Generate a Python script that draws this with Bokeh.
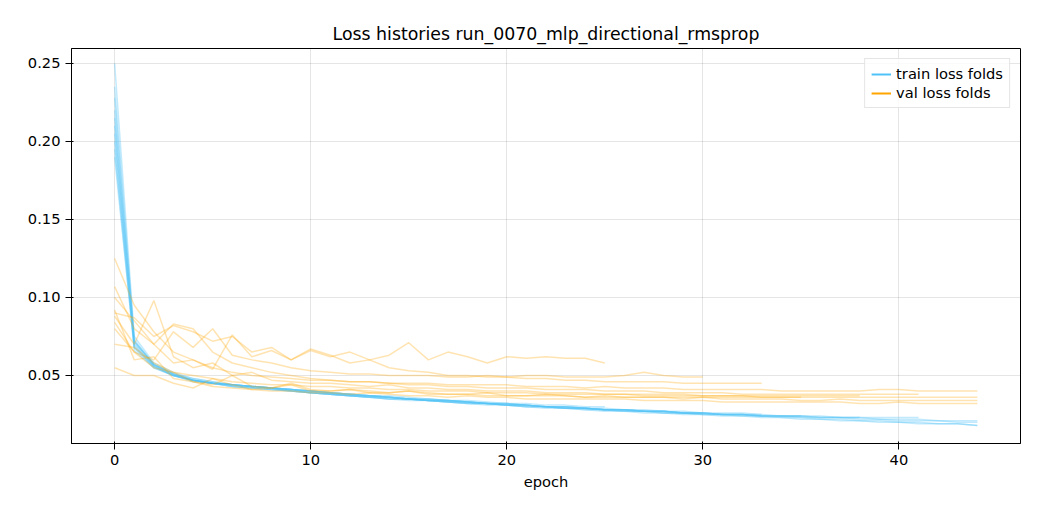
from bokeh.plotting import figure
from bokeh.models import Range1d, Legend, LegendItem, SingleIntervalTicker, NumeralTickFormatter
from bokeh.embed import file_html
from bokeh.resources import INLINE

train_folds = [
    [0.228,0.072,0.057,0.051,0.047,0.045,0.044,0.043,0.042,0.041,0.039,0.038,0.037,0.037,0.036,0.035,0.034,0.034,0.033,0.032,0.031,0.031,0.030,0.029,0.029,0.028,0.028,0.027,0.027,0.026,0.026,0.025,0.025,0.024,0.024,0.023,0.023,0.023,0.022,0.022,0.021,0.021,0.021,0.020,0.020],
    [0.205,0.068,0.055,0.050,0.047,0.045,0.044,0.043,0.042,0.040,0.039,0.038,0.037,0.036,0.035,0.035,0.034,0.033,0.032,0.032,0.031,0.030,0.030,0.029,0.028,0.028,0.027,0.027,0.026,0.026,0.025,0.025,0.024,0.024,0.023,0.023,0.022,0.022,0.021,0.021,0.020,0.020,0.019,0.019,0.018],
    [0.195,0.066,0.055,0.050,0.046,0.045,0.043,0.042,0.041,0.040,0.039,0.038,0.037,0.036,0.035,0.034,0.034,0.033,0.032,0.031,0.031,0.030,0.029,0.029,0.028,0.027,0.027,0.026,0.026,0.025,0.025,0.024,0.024,0.023,0.023,0.022,0.022,0.021,0.021,0.020,0.020,0.019,0.019,0.019,0.018],
    [0.250,0.075,0.058,0.052,0.048,0.046,0.044,0.043,0.042,0.041,0.040,0.039,0.038,0.037,0.036,0.035,0.035,0.034,0.033,0.032,0.032,0.031,0.030,0.030,0.029,0.028,0.028,0.027,0.027,0.026,0.026,0.025,0.025,0.024,0.024,0.024,0.023,0.023,0.023,0.022,0.022,0.022,0.021,0.021,0.021],
    [0.215,0.070,0.056,0.050,0.047,0.045,0.044,0.043,0.042,0.041,0.040,0.039,0.038,0.037,0.036,0.035,0.034,0.034,0.033,0.032,0.032,0.031,0.030,0.030,0.029,0.028,0.028,0.027,0.027,0.026,0.026,0.025,0.025,0.025,0.024,0.024,0.024,0.023,0.023,0.023,0.023,0.023],
    [0.190,0.068,0.056,0.050,0.047,0.045,0.043,0.042,0.041,0.040,0.039,0.038,0.037,0.036,0.035,0.035,0.034,0.033,0.032,0.032,0.031,0.030,0.030,0.029,0.029,0.028,0.027,0.027,0.026,0.026,0.025,0.025,0.025,0.024,0.024,0.024,0.023,0.023,0.023],
    [0.220,0.072,0.057,0.051,0.047,0.045,0.044,0.043,0.042,0.041,0.040,0.039,0.038,0.037,0.036,0.035,0.035,0.034,0.033,0.032,0.032,0.031,0.030,0.030,0.029,0.029,0.028,0.028,0.027,0.027,0.026,0.026,0.026,0.025],
    [0.200,0.069,0.056,0.050,0.047,0.045,0.043,0.042,0.041,0.040,0.039,0.038,0.037,0.036,0.036,0.035,0.034,0.033,0.033,0.032,0.031,0.031,0.030,0.030,0.029,0.028,0.028,0.027,0.027,0.026,0.026],
    [0.210,0.071,0.057,0.051,0.048,0.046,0.044,0.043,0.042,0.041,0.040,0.039,0.038,0.037,0.037,0.036,0.035,0.034,0.034,0.033,0.032,0.032,0.031,0.031,0.030,0.030],
    [0.235,0.073,0.057,0.051,0.047,0.045,0.044,0.043,0.042,0.041,0.040,0.039,0.038,0.037,0.036,0.035,0.034,0.034,0.033,0.032,0.031,0.031,0.030,0.029,0.029,0.028,0.028,0.027,0.027,0.026,0.026,0.025,0.025,0.024,0.024,0.024],
]

val_folds = [
    [0.125,0.095,0.078,0.065,0.060,0.055,0.052,0.050,0.049,0.048,0.047,0.047,0.046,0.046,0.045,0.045,0.045,0.044,0.044,0.044,0.044,0.043,0.043,0.043,0.042,0.043,0.042,0.042,0.042,0.041,0.041,0.041,0.041,0.041,0.040,0.040,0.040,0.040,0.040,0.041,0.041,0.040,0.040,0.040,0.040],
    [0.080,0.065,0.055,0.052,0.050,0.048,0.046,0.045,0.044,0.044,0.043,0.043,0.042,0.042,0.041,0.041,0.040,0.040,0.040,0.039,0.039,0.039,0.038,0.038,0.038,0.038,0.038,0.037,0.037,0.037,0.037,0.037,0.037,0.036,0.036,0.036,0.036,0.036,0.036,0.036,0.036,0.036,0.036,0.036,0.036],
    [0.092,0.060,0.062,0.048,0.046,0.044,0.050,0.043,0.042,0.045,0.041,0.040,0.041,0.040,0.039,0.040,0.039,0.038,0.038,0.039,0.037,0.037,0.038,0.037,0.036,0.037,0.036,0.036,0.036,0.035,0.036,0.035,0.035,0.035,0.035,0.034,0.034,0.035,0.034,0.034,0.034,0.034,0.034,0.034,0.034],
    [0.070,0.068,0.058,0.052,0.046,0.043,0.042,0.041,0.040,0.040,0.039,0.039,0.038,0.039,0.038,0.037,0.037,0.036,0.037,0.036,0.036,0.035,0.035,0.035,0.035,0.035,0.035,0.034,0.034,0.034,0.034,0.033,0.033,0.033,0.033,0.033,0.033,0.033,0.032,0.032,0.033,0.032,0.032,0.032,0.032],
    [0.100,0.085,0.070,0.083,0.080,0.065,0.058,0.055,0.052,0.050,0.048,0.047,0.046,0.046,0.045,0.044,0.044,0.043,0.043,0.042,0.042,0.042,0.041,0.041,0.041,0.040,0.040,0.040,0.039,0.039,0.039,0.039,0.038,0.038,0.038,0.038,0.038,0.038,0.038,0.038,0.038,0.038],
    [0.088,0.070,0.098,0.062,0.055,0.058,0.050,0.052,0.047,0.046,0.045,0.045,0.044,0.043,0.044,0.042,0.042,0.041,0.041,0.040,0.040,0.040,0.039,0.039,0.039,0.038,0.038,0.038,0.038,0.038,0.037,0.037,0.037,0.037,0.037,0.037,0.037,0.037,0.037],
    [0.107,0.080,0.070,0.058,0.060,0.054,0.076,0.062,0.066,0.060,0.067,0.063,0.058,0.060,0.055,0.053,0.052,0.050,0.050,0.049,0.049,0.048,0.048,0.047,0.047,0.046,0.046,0.046,0.046,0.045,0.045,0.045,0.045,0.045],
    [0.084,0.065,0.060,0.078,0.068,0.080,0.063,0.060,0.058,0.055,0.053,0.052,0.051,0.051,0.050,0.050,0.050,0.049,0.049,0.050,0.049,0.050,0.050,0.049,0.049,0.049,0.050,0.052,0.050,0.049,0.049],
    [0.090,0.087,0.075,0.082,0.078,0.072,0.075,0.065,0.068,0.060,0.066,0.062,0.065,0.060,0.063,0.071,0.060,0.065,0.062,0.058,0.062,0.061,0.062,0.061,0.061,0.058],
    [0.055,0.050,0.050,0.045,0.042,0.048,0.044,0.041,0.042,0.044,0.040,0.040,0.041,0.039,0.039,0.040,0.038,0.038,0.038,0.037,0.037,0.037,0.037,0.037,0.036,0.036,0.036,0.036,0.036,0.036,0.036,0.036,0.036,0.036,0.036,0.036],
]

TRAIN_C = "#4fc3f7"
VAL_C = "#ffa500"
FONT = "DejaVu Sans"

p = figure(width=1024, height=504, output_backend="svg", toolbar_location=None,
           x_range=Range1d(-2.2, 46.2), y_range=Range1d(0.0064, 0.2596),
           min_border_left=71, min_border_right=4, min_border_top=48, min_border_bottom=61,
           title="Loss histories run_0070_mlp_directional_rmsprop")
p.title.align = "center"
p.title.text_font = FONT
p.title.text_font_size = "13pt"
p.title.text_font_style = "normal"
p.title.text_color = "black"

for ys in train_folds:
    p.line(list(range(len(ys))), ys, color=TRAIN_C, alpha=0.35, line_width=1.5)
for ys in val_folds:
    p.line(list(range(len(ys))), ys, color=VAL_C, alpha=0.3, line_width=1.5)

# legend proxies placed outside the visible x range
tr_proxy = p.line([-100, -99], [0.1, 0.1], color=TRAIN_C, line_width=2)
va_proxy = p.line([-100, -99], [0.1, 0.1], color=VAL_C, line_width=2)
legend = Legend(items=[LegendItem(label="train loss folds", renderers=[tr_proxy]),
                       LegendItem(label="val loss folds", renderers=[va_proxy])],
                location="top_right", label_text_font=FONT, label_text_font_size="11pt",
                label_text_color="black",
                border_line_color="#cccccc", background_fill_alpha=0.8,
                spacing=2, padding=6, label_height=16, glyph_height=16)
p.add_layout(legend)

p.xaxis.ticker = SingleIntervalTicker(interval=10)
p.xaxis.axis_label = "epoch"
for ax in (p.xaxis, p.yaxis):
    ax.axis_label_text_font = FONT
    ax.axis_label_text_font_style = "normal"
    ax.axis_label_text_font_size = "11pt"
    ax.axis_label_text_color = "black"
    ax.major_label_text_font = FONT
    ax.major_label_text_font_size = "11pt"
    ax.major_label_text_color = "black"
    ax.minor_tick_line_color = None
    ax.axis_line_color = "black"
p.yaxis.ticker = SingleIntervalTicker(interval=0.05)
p.yaxis.formatter = NumeralTickFormatter(format="0.00")
p.grid.grid_line_color = "#000000"
p.grid.grid_line_alpha = 0.1
p.outline_line_color = "black"

open("out.html", "w").write(file_html(p, INLINE))
